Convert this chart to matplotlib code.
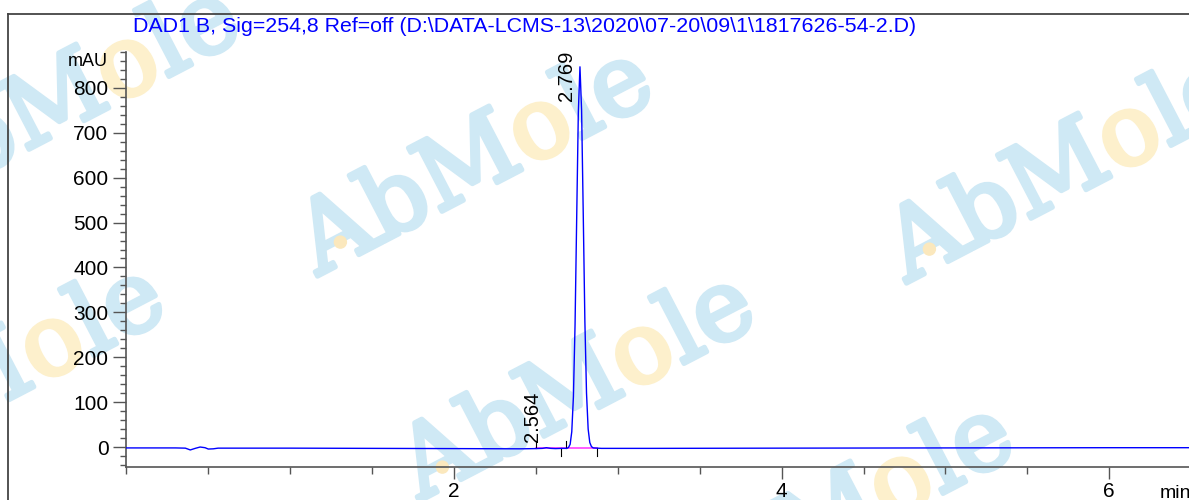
import numpy as np
import matplotlib
matplotlib.use("Agg")
import matplotlib.pyplot as plt
import matplotlib.patheffects as pe
from matplotlib.ticker import MultipleLocator
from matplotlib.transforms import IdentityTransform
from matplotlib.patches import Circle
from matplotlib.lines import Line2D

plt.rcParams['font.family'] = ['Liberation Sans', 'DejaVu Sans']

# --- data ---
title = r"DAD1 B, Sig=254,8 Ref=off (D:\DATA-LCMS-13\2020\07-20\09\1\1817626-54-2.D)"

time_min = [0.00, 0.30, 0.36, 0.39, 0.42, 0.45, 0.48, 0.50, 0.53, 0.56,
            1.00, 1.50, 2.00, 2.40, 2.50, 2.54, 2.564, 2.59, 2.62, 2.66,
            2.689, 2.699, 2.709, 2.719, 2.729, 2.739, 2.749, 2.759, 2.769,
            2.779, 2.789, 2.799, 2.809, 2.819, 2.829, 2.839, 2.85, 2.90,
            3.20, 4.00, 5.00, 6.00, 6.50]
signal_mau = [-2.0, -2.0, -2.5, -6.5, -3.0, 0.0, -1.5, -4.5, -4.0, -2.5,
              -2.5, -3.0, -3.5, -4.0, -3.5, -3.0, -1.5, -3.0, -3.5, -3.0,
              -3.0, -1.0, 6.0, 34.0, 112.0, 272.0, 510.0, 745.0, 847.0,
              750.0, 520.0, 280.0, 120.0, 40.0, 10.0, 1.0, -2.0, -3.0,
              -3.0, -2.5, -2.0, -1.5, -1.5]

peak_rt = [2.564, 2.769]
peak_labels = ["2.564", "2.769"]

baseline_start, baseline_end, baseline_level = 2.50, 2.871, -2.5
marker_t = [2.50, 2.653, 2.681, 2.871]
marker_dir = [1, -1, 1, -1]   # 1 = up, -1 = down

fig = plt.figure(figsize=(11.89, 5), dpi=100)
W, H = 1189, 500

# watermark (behind everything)
wm_size = 71
wm_angle = 27.5
wm_font = dict(fontsize=wm_size, family='DejaVu Serif')
wm_blue = '#cfe9f5'
wm_yellow = '#fdf0cc'
wm_starts = [(-95, 214), (318, 276), (907, 283), (-170, 493), (420, 501), (679, 631)]

renderer = fig.canvas.get_renderer()
def text_w(s):
    t = fig.text(0, 0, s, **wm_font)
    w = t.get_window_extent(renderer).width
    t.remove()
    return w

w_abm = text_w('AbM')
w_abmo = text_w('AbMo')
em = wm_size * 100 / 72
ca, sa = np.cos(np.radians(wm_angle)), np.sin(np.radians(wm_angle))
for x0, y0 in wm_starts:
    X, Y = x0, H - y0
    for s, off, col in [('AbM', 0, wm_blue), ('o', w_abm, wm_yellow), ('le', w_abmo, wm_blue)]:
        fig.text(X + off * ca, Y + off * sa, s, transform=IdentityTransform(),
                 rotation=wm_angle, rotation_mode='anchor', ha='left', va='baseline',
                 color=col, zorder=-2,
                 path_effects=[pe.withStroke(linewidth=3.5, foreground=col)], **wm_font)
    a, p = 0.36 * em, 0.2 * em
    fig.add_artist(Circle((X + a * ca - p * sa, Y + a * sa + p * ca), 6,
                          transform=IdentityTransform(), color='#fbe8bd', zorder=-1))

# outer frame
fig.add_artist(Line2D([8 / W, 8 / W], [0, 1 - 14 / H], color='#444444', lw=1.3))
fig.add_artist(Line2D([8 / W, 1], [1 - 14 / H, 1 - 14 / H], color='#444444', lw=1.3))

x0 = 126.4
ax = fig.add_axes([x0 / W, 33 / H, 1 - x0 / W, (467 - 52) / H])
ax.patch.set_alpha(0)
ax.set_xlim(0, (W - x0) / 163.8)
ax.set_ylim(-44.5, 880)

ax.plot(time_min, signal_mau, color='#0000ff', lw=1.0, zorder=3)
ax.plot([baseline_start, baseline_end], [baseline_level, baseline_level],
        color='#ff40ff', lw=1.2, zorder=2)
for t, d in zip(marker_t, marker_dir):
    ax.plot([t, t], [baseline_level, baseline_level + d * 17], color='black', lw=0.8)

# peak labels
ax.annotate(peak_labels[0], xy=(peak_rt[0], -1), xytext=(-3, 4), textcoords='offset points',
            rotation=90, ha='right', va='bottom', fontsize=14.5)
ax.annotate(peak_labels[1], xy=(peak_rt[1], 880), xytext=(-3, 1), textcoords='offset points',
            rotation=90, ha='right', va='top', fontsize=14.5)

for s in ['top', 'right']:
    ax.spines[s].set_visible(False)
for s in ['left', 'bottom']:
    ax.spines[s].set_color('#555555')
    ax.spines[s].set_linewidth(1.2)

ax.set_xticks([2, 4, 6])
ax.xaxis.set_minor_locator(MultipleLocator(0.5))
ax.set_yticks(range(0, 801, 100))
ax.yaxis.set_minor_locator(MultipleLocator(20))
ax.tick_params(axis='x', which='major', length=8.6, width=1, color='#555555', labelsize=15, pad=2)
ax.tick_params(axis='x', which='minor', length=5, width=1, color='#555555')
ax.tick_params(axis='y', which='major', length=9.4, width=1, color='#555555', labelsize=15, pad=3.5)
ax.tick_params(axis='y', which='minor', length=4.3, width=1, color='#555555')

fig.text(108 / W, 1 - 61 / H, 'mAU', ha='right', va='center', fontsize=13)
fig.text(133 / W, 1 - 27 / H, title, ha='left', va='center', fontsize=15.4, color='#0000ff')
fig.text(1160 / W, 1 - 493 / H, 'min', ha='left', va='center', fontsize=14)

fig.savefig('out.png', dpi=100)
